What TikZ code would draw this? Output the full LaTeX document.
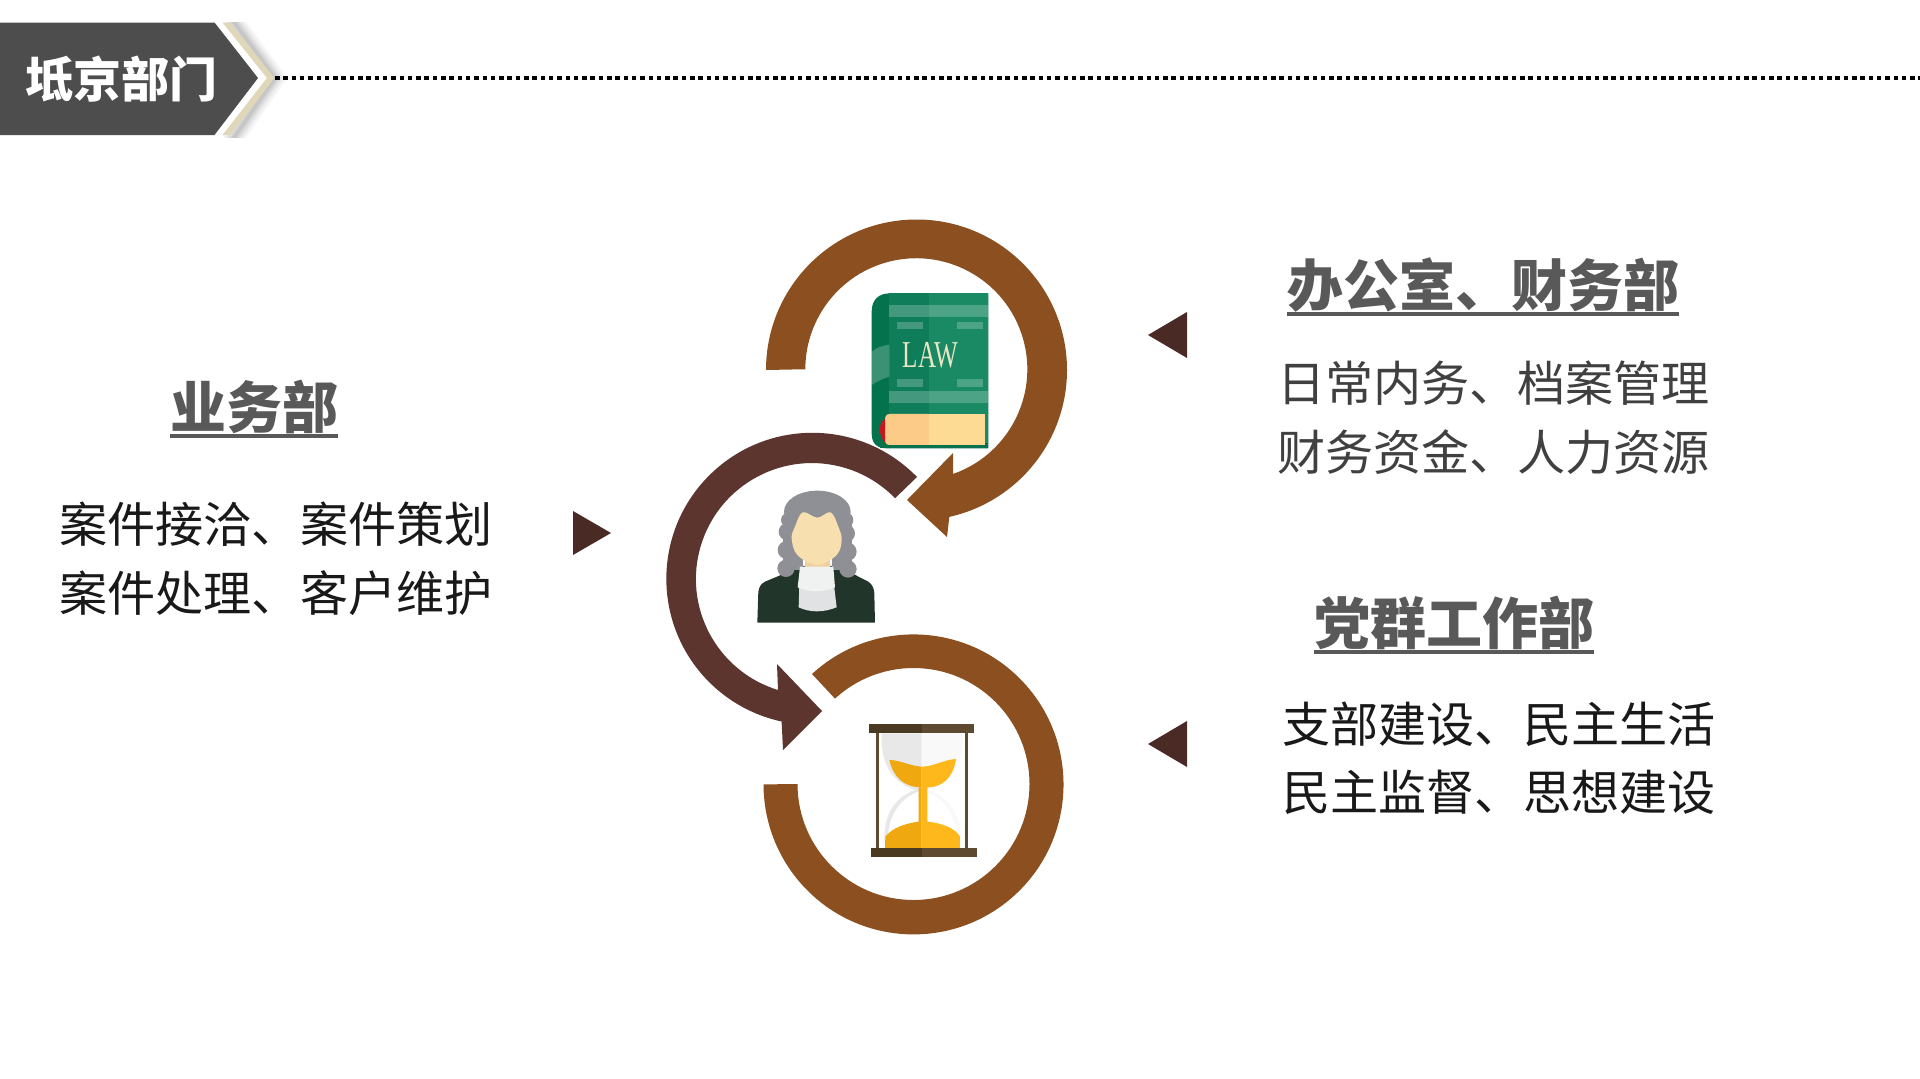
\documentclass[tikz,border=0pt]{standalone}
\usepackage{fontspec}
\newfontfamily\cjk{Noto Sans CJK SC}
\newfontfamily\lawfont{Liberation Serif}
\definecolor{ringbrown}{HTML}{8B4F20}
\definecolor{ringdark}{HTML}{5B352E}
\definecolor{tri}{HTML}{4A2A25}
\definecolor{hdr}{HTML}{4D4D4D}
\definecolor{cream}{HTML}{E0D6B8}
\definecolor{headtxt}{HTML}{595959}
\definecolor{spine}{HTML}{04734D}
\definecolor{coverL}{HTML}{0F7C5A}
\definecolor{coverR}{HTML}{1A8A64}
\definecolor{pageL}{HTML}{FBCB87}
\definecolor{pageR}{HTML}{FEDB94}
\definecolor{bookred}{HTML}{C9161D}
\definecolor{lawtxt}{HTML}{E9E6C4}
\definecolor{robe}{HTML}{22352A}
\definecolor{wig}{HTML}{8F9095}
\definecolor{neck}{HTML}{EFCF9A}
\definecolor{face}{HTML}{F7DFB0}
\definecolor{colA}{HTML}{F0F1F1}
\definecolor{colB}{HTML}{E0E2E4}
\definecolor{glassL}{HTML}{E8E8E8}
\definecolor{glassR}{HTML}{F9F9F9}
\definecolor{sandL}{HTML}{EFA80F}
\definecolor{sandR}{HTML}{FFB81C}
\definecolor{woodL}{HTML}{4A3A22}
\definecolor{woodR}{HTML}{5E4A30}
\tikzset{
  head/.style={inner sep=0pt,font=\cjk\bfseries\fontsize{56}{56}\selectfont,text=headtxt,text height=47pt,text depth=5pt},
  body/.style={inner sep=0pt,font=\cjk\fontsize{48.1}{48.1}\selectfont,text height=40pt,text depth=4pt},
  uline/.style={draw=headtxt,line width=3.5pt},
  tribox/.style={fill=tri},
  ring/.style={fill=ringbrown},
  ringm/.style={fill=ringdark},
  band/.style={fill=white,fill opacity=.22},
}
\begin{document}
\begin{tikzpicture}[x=1pt,y=1pt]
\useasboundingbox (0,0) rectangle (1920,-1079);
\fill[white] (0,0) rectangle (1920,-1079);
% header shadow
\begin{scope}
\clip (200,-22.5) rectangle (300,-137);
\foreach \w in {20,15,11,8,5,3}{
  \draw[black,opacity=.04,line width=\w pt,line join=miter]
    (231,-18) -- (275,-78) -- (231,-142);
}
\end{scope}
\fill[white] (214,-22.5) -- (222.5,-22.5) -- (267,-78) -- (222.5,-135) -- (214,-135) -- cycle;
\fill[cream] (222.5,-22.5) -- (230,-22.5) -- (274.5,-78) -- (230,-135) -- (222.5,-135) -- (267,-78) -- cycle;
\fill[hdr] (0,-22.5) -- (214.5,-22.5) -- (258,-78) -- (214.5,-135) -- (0,-135) -- cycle;
\node[inner sep=0pt,text=white,font=\cjk\bfseries\fontsize{48}{48}\selectfont] (title) at (121,-79) {坻京部门};
\coordinate (dotA) at (275,-78);
\coordinate (dotB) at (1920,-78);
\draw[black,line width=4.5pt,dash pattern=on 4.5pt off 3.8pt] (dotA) -- (dotB);
% rings
\path[ring] (766,-370) arc[start angle=180,end angle=-77.4,radius=150.5pt] -- (947,-537) -- (907,-500) -- (953,-453) -- (953,-474) arc[start angle=-70.7,end angle=180,radius=111pt] -- cycle;
\path[ringm] (917,-477) arc[start angle=44.2,end angle=257.85,radius=146pt] -- (783,-750) -- (822,-711) -- (777,-664) -- (778,-690) arc[start angle=253,end angle=44.2,radius=116pt] -- cycle;
\path[ring] (812,-674) arc[start angle=132.6,end angle=-180,radius=150pt] -- (797.5,-784) arc[start angle=-180,end angle=132.6,radius=116pt] -- cycle;
% triangles
\path[tribox] (573,-511) -- (611,-533) -- (573,-555) -- cycle;
\path[tribox] (1187,-312) -- (1148,-335) -- (1187,-358) -- cycle;
\path[tribox] (1187,-721) -- (1148,-744) -- (1187,-767) -- cycle;
% texts
\node[head] (h1) at (254,-407) {业务部};
\draw[uline] ([yshift=-3pt]h1.south west) -- ([yshift=-3pt]h1.south east);
\node[body,text=black!90] (b1) at (276,-524) {案件接洽、案件策划};
\node[body,text=black!90] (b2) at (276,-593) {案件处理、客户维护};
\node[head] (h2) at (1483,-285) {办公室、财务部};
\draw[uline] ([yshift=-3pt]h2.south west) -- ([yshift=-3pt]h2.south east);
\node[body,text=black!75] (b3) at (1493.5,-383) {日常内务、档案管理};
\node[body,text=black!75] (b4) at (1493.5,-452) {财务资金、人力资源};
\node[head] (h3) at (1454,-623) {党群工作部};
\draw[uline] ([yshift=-3pt]h3.south west) -- ([yshift=-3pt]h3.south east);
\node[body,text=black!90] (b5) at (1499,-724) {支部建设、民主生活};
\node[body,text=black!90] (b6) at (1499,-792) {民主监督、思想建设};
% book
\begin{scope}[shift={(840,-270)},x=.3333pt,y=-.3333pt]
\fill[spine] (445,70) -- (150,70) .. controls (115,70) and (95,90) .. (95,125) -- (95,490) .. controls (95,520) and (110,535) .. (140,535) -- (445,535) -- cycle;
\fill[coverL] (148,70) rectangle (268,535);
\fill[coverR] (268,70) rectangle (445,535);
\fill[spine] (120,520) rectangle (445,535);
\path[band] (148,105) rectangle (445,140);
\path[band] (170,155) rectangle (248,178);
\path[band] (350,155) rectangle (428,178);
\path[band] (170,328) rectangle (248,352);
\path[band] (350,328) rectangle (428,352);
\path[band] (148,362) rectangle (445,398);
\path[band] (95,245) .. controls (110,232) and (130,226) .. (148,224) -- (148,320) .. controls (130,325) and (110,335) .. (95,345) -- cycle;
\fill[pageL] (268,432) -- (150,432) .. controls (138,432) and (135,440) .. (135,450) -- (135,510) .. controls (135,520) and (140,525) .. (150,525) -- (268,525) -- cycle;
\fill[pageR] (268,432) rectangle (435,525);
\fill[bookred] (135,447) .. controls (122,455) and (118,470) .. (120,485) .. controls (122,500) and (128,512) .. (135,517) -- cycle;
\node[inner sep=0pt,text=lawtxt] (law) at (271,257) {\scalebox{.66}[1]{\lawfont\fontsize{38}{38}\selectfont LAW}};
\end{scope}
% judge
\begin{scope}[shift={(740,-470)},x=.3333pt,y=-.3333pt]
\fill[robe] (52,458) -- (55,365) .. controls (58,350) and (62,342) .. (75,335) -- (130,312) -- (180,288) -- (285,288) -- (340,312) -- (385,335) .. controls (398,345) and (402,355) .. (403,370) -- (405,458) -- cycle;
\fill[wig] (232,125) ellipse[x radius=33.3pt,y radius=21pt];
\fill[wig] (128,135) rectangle (190,300);
\fill[wig] (275,135) rectangle (335,300);
\foreach \a/\b/\c in {145/150/22,142/185/26,140/240/27,138/295/26,318/150/22,318/190/27,322/245/28,324/297/26}{
  \fill[wig] (\a,\b) circle[radius=\c*.3333pt];
}
\fill[neck] (195,265) rectangle (270,298);
\fill[face] plot[smooth cycle,tension=.6] coordinates {(188,127) (232,143) (272,127) (295,170) (305,210) (290,255) (232,285) (172,255) (155,205) (165,170)};
\fill[colB] (178,345) -- (282,345) -- (290,412) .. controls (250,428) and (210,428) .. (176,412) -- cycle;
\fill[colA] (180,290) -- (280,290) -- (285,352) .. controls (250,368) and (210,368) .. (173,352) -- cycle;
\end{scope}
% hourglass
\begin{scope}[shift={(850,-710)},x=.3333pt,y=-.3333pt]
\fill[glassL] (95,70) -- (215,70) -- (215,415) -- (105,415) .. controls (95,330) and (125,265) .. (195,240) .. controls (125,215) and (90,160) .. (95,70) -- cycle;
\fill[glassR] (215,70) -- (338,70) .. controls (340,160) and (305,215) .. (235,240) .. controls (305,265) and (340,330) .. (332,415) -- (215,415) -- cycle;
\fill[white] (112,415) .. controls (110,330) and (140,270) .. (205,245) -- (225,245) .. controls (295,270) and (325,330) .. (322,415) -- cycle;
\fill[sandL] (118,150) .. controls (150,150) and (180,168) .. (215,170) -- (215,232) .. controls (160,232) and (130,200) .. (118,150) -- cycle;
\fill[sandR] (215,170) .. controls (250,170) and (285,148) .. (318,147) .. controls (310,200) and (280,232) .. (232,232) -- (232,335) .. controls (280,340) and (315,355) .. (330,380) -- (330,415) -- (215,415) -- cycle;
\fill[sandL] (215,232) -- (206,232) -- (206,335) .. controls (165,340) and (125,355) .. (106,380) -- (105,415) -- (215,415) -- cycle;
\fill[woodR] (78,70) rectangle (88,415);
\fill[woodR] (345,70) rectangle (355,415);
\fill[woodL] (57,43) rectangle (215,70);
\fill[woodR] (215,43) rectangle (372,70);
\fill[woodL] (63,415) rectangle (215,442);
\fill[woodR] (215,415) rectangle (380,442);
\end{scope}
\end{tikzpicture}
\end{document}
